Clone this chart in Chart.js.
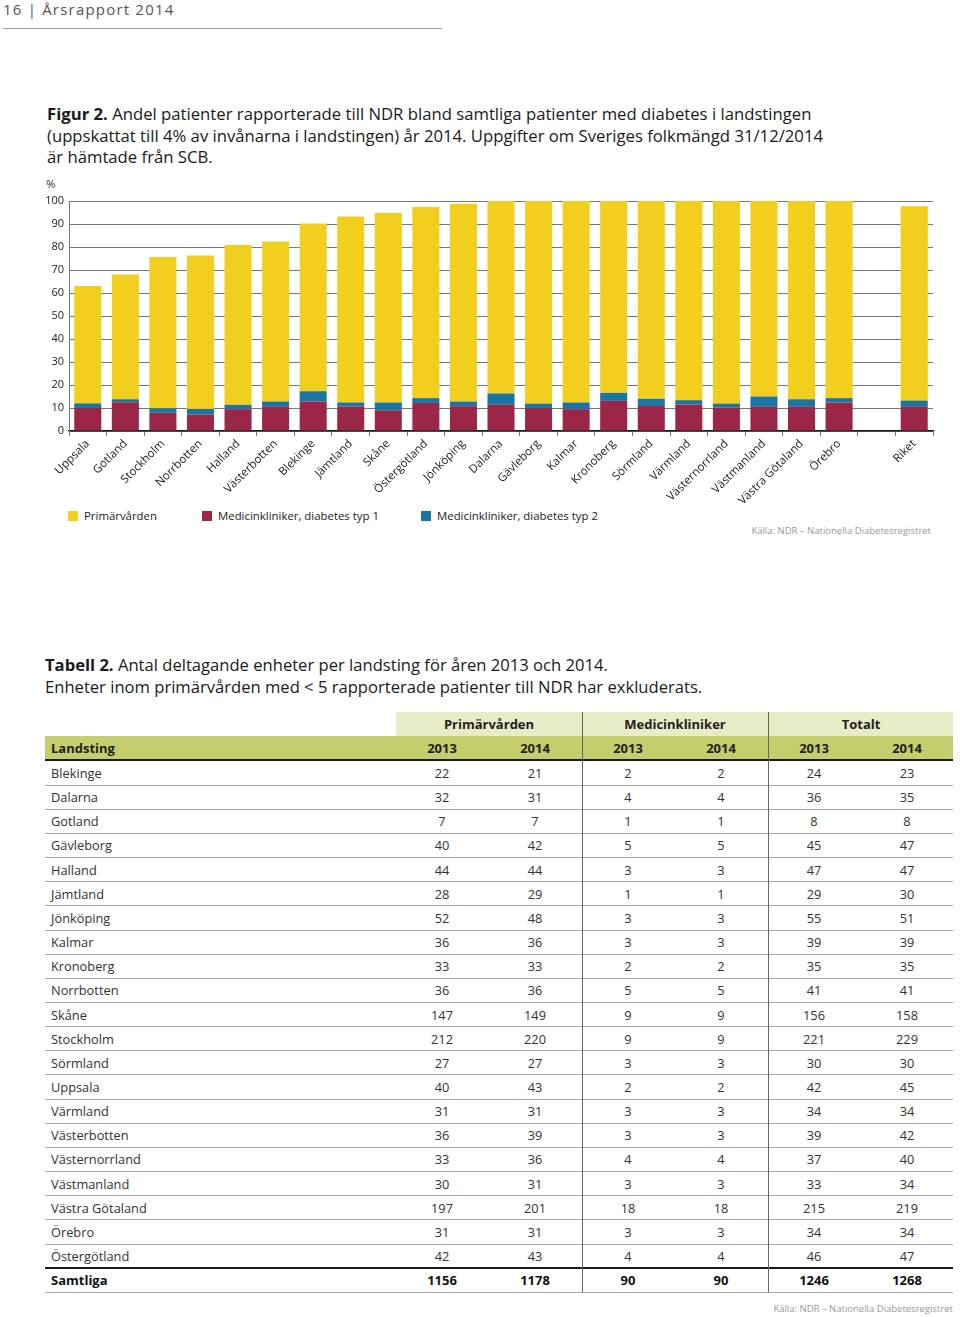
<!DOCTYPE html>
<html><head><meta charset="utf-8">
<script src="https://cdn.jsdelivr.net/npm/chart.js@4/dist/chart.umd.min.js"></script>
<style>
html,body{margin:0;padding:0;background:#fff;}
body{width:960px;height:1317px;position:relative;overflow:hidden;font-family:"Open Sans",sans-serif;color:#222;}
.abs{position:absolute;white-space:nowrap;}
#hdr{left:3px;top:-2px;font-size:15px;letter-spacing:1.2px;color:#555;line-height:22px;}
#hdrline{left:3px;top:28px;width:439px;height:0;border-top:1.5px solid #9a9a9a;}
.cap{font-size:16.7px;line-height:21.5px;color:#1a1a1a;}
.cap b{font-weight:700;}
.leg{font-size:11.4px;color:#222;line-height:14px;}
.sw{position:absolute;width:10px;height:10px;}
.src{font-size:9.5px;color:#999;}
.cell{position:absolute;font-size:12.8px;color:#333;line-height:24px;height:24px;text-align:center;}
.hl{position:absolute;height:0;}
.vl{position:absolute;width:0;border-left:1px solid #666;}
#chartbox{position:absolute;left:0;top:170px;width:960px;height:345px;}
</style></head>
<body>
<div id="hdr" class="abs">16 | Årsrapport 2014</div>
<div id="hdrline" class="abs"></div>
<div class="abs cap" style="left:47px;top:103px;"><b>Figur 2.</b> Andel patienter rapporterade till NDR bland samtliga patienter med diabetes i landstingen<br>(uppskattat till 4% av invånarna i landstingen) år 2014. Uppgifter om Sveriges folkmängd 31/12/2014<br>är hämtade från SCB.</div>
<div class="abs" style="left:46px;top:176px;font-size:11.5px;color:#333;">%</div>
<div id="legend"></div>
<div class="abs src" style="right:29px;top:524px;">Källa: NDR – Nationella Diabetesregistret</div>
<div class="abs cap" style="left:45px;top:654px;font-size:16.6px;"><b>Tabell 2.</b> Antal deltagande enheter per landsting för åren 2013 och 2014.<br>Enheter inom primärvården med &lt; 5 rapporterade patienter till NDR har exkluderats.</div>
<div id="table"></div>
<div class="abs src" style="right:7px;top:1302px;">Källa: NDR – Nationella Diabetesregistret</div>
<div id="chartbox"><canvas id="c" width="960" height="345"></canvas></div>
<script>
// ---- Chart data ----
const categories = ['Uppsala','Gotland','Stockholm','Norrbotten','Halland','Västerbotten','Blekinge','Jämtland','Skåne','Östergötland','Jönköping','Dalarna','Gävleborg','Kalmar','Kronoberg','Sörmland','Värmland','Västernorrland','Västmanland','Västra Götaland','Örebro','','Riket'];
const typ1Values = [10.0,12.5,7.9,7.1,9.5,10.5,12.8,10.6,9.0,12.2,10.8,11.4,10.0,9.5,13.1,10.9,11.5,10.2,10.5,10.5,12.4,null,10.5];
const typ2Values = [2.0,1.3,2.0,2.5,1.9,2.3,4.5,1.8,3.4,2.1,2.0,4.9,1.9,2.9,3.5,3.1,1.9,1.7,4.5,3.3,1.9,null,2.7];
const primValues = [51.0,54.2,65.8,66.7,69.5,69.6,72.9,80.9,82.4,83.1,86.0,83.7,88.1,87.6,83.4,86.0,86.6,88.1,85.0,86.2,85.7,null,84.5];
const yTicks = [0,10,20,30,40,50,60,70,80,90,100];
const seriesNames = ['Primärvården','Medicinkliniker, diabetes typ 1','Medicinkliniker, diabetes typ 2'];

// ---- Table data ----
const tableGroups = ['Primärvården','Medicinkliniker','Totalt'];
const tableYears = ['2013','2014'];
const tableLandsting = ['Blekinge','Dalarna','Gotland','Gävleborg','Halland','Jämtland','Jönköping','Kalmar','Kronoberg','Norrbotten','Skåne','Stockholm','Sörmland','Uppsala','Värmland','Västerbotten','Västernorrland','Västmanland','Västra Götaland','Örebro','Östergötland'];
const prim2013 = [22,32,7,40,44,28,52,36,33,36,147,212,27,40,31,36,33,30,197,31,42];
const prim2014 = [21,31,7,42,44,29,48,36,33,36,149,220,27,43,31,39,36,31,201,31,43];
const med2013 = [2,4,1,5,3,1,3,3,2,5,9,9,3,2,3,3,4,3,18,3,4];
const med2014 = [2,4,1,5,3,1,3,3,2,5,9,9,3,2,3,3,4,3,18,3,4];
const tot2013 = [24,36,8,45,47,29,55,39,35,41,156,221,30,42,34,39,37,33,215,34,46];
const tot2014 = [23,35,8,47,47,30,51,39,35,41,158,229,30,45,34,42,40,34,219,34,47];
const totalRow = ['Samtliga',1156,1178,90,90,1246,1268];

const YELLOW = '#f2cf1f', RED = '#9c2647', BLUE = '#1b75a3';

new Chart(document.getElementById('c'), {
  type: 'bar',
  data: {
    labels: categories,
    datasets: [
      {label: seriesNames[1], data: typ1Values, backgroundColor: RED},
      {label: seriesNames[2], data: typ2Values, backgroundColor: BLUE},
      {label: seriesNames[0], data: primValues, backgroundColor: YELLOW}
    ]
  },
  options: {
    responsive: false, animation: false,
    layout: {padding: {top: 31, right: 27, left: 0, bottom: 0}},
    datasets: {bar: {categoryPercentage: 1.0, barPercentage: 0.72}},
    plugins: {legend: {display: false}, tooltip: {enabled: false}},
    scales: {
      x: {
        stacked: true,
        afterFit: s => { s.height = 84; },
        grid: {offset: true, drawOnChartArea: false, drawTicks: true, tickLength: 5, color: '#777', lineWidth: 1},
        border: {display: true, color: '#1a1a1a', width: 1.5},
        ticks: {autoSkip: false, maxRotation: 45, minRotation: 45, padding: 1, color: '#222', font: {family: 'Open Sans', size: 11.5}}
      },
      y: {
        stacked: true, min: 0, max: 100,
        afterFit: s => { s.width = 69; },
        afterBuildTicks: s => { s.ticks = yTicks.map(v => ({value: v})); },
        grid: {color: '#777', lineWidth: 1, drawTicks: false},
        border: {display: true, color: '#777', width: 1},
        ticks: {padding: 5, color: '#222', font: {family: 'Open Sans', size: 11}}
      }
    }
  }
});

// legend
const legendItems = [
  {name: seriesNames[0], color: YELLOW, x: 68},
  {name: seriesNames[1], color: RED, x: 202},
  {name: seriesNames[2], color: BLUE, x: 421}
];
const lg = document.getElementById('legend');
legendItems.forEach(it => {
  const sw = document.createElement('div');
  sw.className = 'sw'; sw.style.left = it.x + 'px'; sw.style.top = '511px'; sw.style.background = it.color;
  lg.appendChild(sw);
  const t = document.createElement('div');
  t.className = 'abs leg'; t.style.left = (it.x + 16) + 'px'; t.style.top = '509px'; t.textContent = it.name;
  lg.appendChild(t);
});

// table
const tb = document.getElementById('table');
function add(el){ tb.appendChild(el); return el; }
function div(cls, styles, text){ const d = document.createElement('div'); d.className = cls; Object.assign(d.style, styles); if (text !== undefined) d.textContent = text; return add(d); }
const L = 45, R = 953, T = 712, RH = 24, DR = 24.15;
const colCenters = [442, 535, 628, 721, 814, 907];
const groupX = [396, 582, 768, 954];
div('hl', {left: '396px', top: T + 'px', width: (R - 396) + 'px', height: RH + 'px', background: '#e7ecc6'});
div('hl', {left: L + 'px', top: (T + RH) + 'px', width: (R - L) + 'px', height: RH + 'px', background: '#c5ce6c'});
tableGroups.forEach((g, i) => {
  div('cell', {left: groupX[i] + 'px', top: T + 'px', width: (groupX[i+1] - groupX[i]) + 'px', fontWeight: '700', color: '#222', fontSize: '13px'}, g);
});
div('cell', {left: '51px', top: (T + RH) + 'px', textAlign: 'left', fontWeight: '700', color: '#222', fontSize: '13px'}, 'Landsting');
colCenters.forEach((c, i) => {
  div('cell', {left: (c - 40) + 'px', top: (T + RH) + 'px', width: '80px', fontWeight: '700', color: '#222', fontSize: '13px'}, tableYears[i % 2]);
});
const y0 = 761;
const cols = [prim2013, prim2014, med2013, med2014, tot2013, tot2014];
tableLandsting.forEach((name, r) => {
  const top = y0 + r * DR;
  div('cell', {left: '51px', top: top + 'px', textAlign: 'left'}, name);
  cols.forEach((col, i) => {
    div('cell', {left: (colCenters[i] - 40) + 'px', top: top + 'px', width: '80px'}, String(col[r]));
  });
  if (r > 0) div('hl', {left: L + 'px', top: (top - 0.5) + 'px', width: (R - L) + 'px', borderTop: '1px solid #a8a8a8'});
});
const ty = y0 + tableLandsting.length * DR;
div('cell', {left: '51px', top: ty + 'px', textAlign: 'left', fontWeight: '700', color: '#111', fontSize: '13px'}, totalRow[0]);
for (let i = 1; i < totalRow.length; i++) {
  div('cell', {left: (colCenters[i-1] - 40) + 'px', top: ty + 'px', width: '80px', fontWeight: '700', color: '#111', fontSize: '13px'}, String(totalRow[i]));
}
div('hl', {left: L + 'px', top: '759px', width: (R - L) + 'px', borderTop: '2px solid #1a1a1a'});
div('hl', {left: L + 'px', top: (ty - 1) + 'px', width: (R - L) + 'px', borderTop: '2px solid #1a1a1a'});
div('hl', {left: L + 'px', top: (ty + 24) + 'px', width: (R - L) + 'px', borderTop: '1.5px solid #a8a8a8'});
[582, 768].forEach(x => div('vl', {left: x + 'px', top: T + 'px', height: (ty + 24 - T) + 'px'}));
</script>
</body></html>
